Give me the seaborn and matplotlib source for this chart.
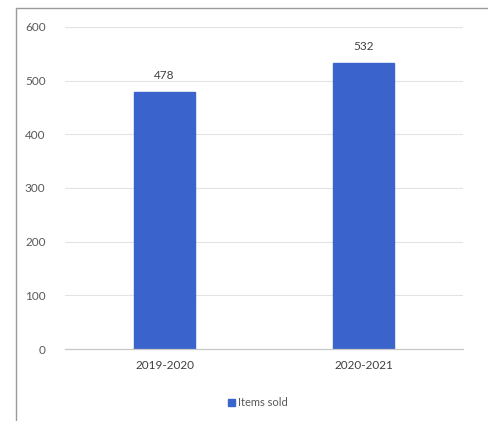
import matplotlib
matplotlib.use("Agg")
import matplotlib.pyplot as plt
import seaborn as sns
import pandas as pd
from matplotlib.lines import Line2D
from matplotlib.patches import Patch

periods = ["2019-2020", "2020-2021"]
items_sold = [478, 532]
series_name = "Items sold"
y_ticks = [0, 100, 200, 300, 400, 500, 600]

df = pd.DataFrame({"period": periods, "value": items_sold, "series": series_name})

sns.set_theme(style="white")
plt.rcParams["font.family"] = ["Lato", "DejaVu Sans"]

W, H = 488, 421
fig = plt.figure(figsize=(W / 100, H / 100), dpi=100)
ax = fig.add_axes([65 / W, 1 - 349 / H, (463 - 65) / W, (349 - 27) / H])

color = "#3A63CB"
sns.barplot(data=df, x="period", y="value", color=color, width=0.31, ax=ax,
            saturation=1, edgecolor=color)

ax.set_ylim(0, 600)
ax.set_xlim(-0.5, 1.5)
ax.set_yticks(y_ticks)
ax.set_yticklabels([str(t) for t in y_ticks])
ax.grid(axis="y", color="#e3e3e3", linewidth=0.8)
ax.set_axisbelow(True)
for s in ["top", "right", "left"]:
    ax.spines[s].set_visible(False)
ax.spines["bottom"].set_color("#c8c8c8")
ax.spines["bottom"].set_linewidth(0.9)
ax.tick_params(axis="y", length=0, labelsize=8.5, labelcolor="#595959", pad=14)
ax.tick_params(axis="x", length=0, labelsize=8.5, labelcolor="#404040", pad=8)
ax.set_xlabel("")
ax.set_ylabel("")

for c in ax.containers:
    ax.bar_label(c, labels=[str(v) for v in items_sold], padding=8,
                 fontsize=8.5, color="#404040")

leg = fig.legend(handles=[Patch(facecolor=color, edgecolor=color, label=series_name)],
                 loc="center", bbox_to_anchor=(258 / W, 1 - 403 / H), frameon=False,
                 fontsize=8, handlelength=0.6, handleheight=0.6, handletextpad=0.3)
for t in leg.get_texts():
    t.set_color("#595959")

# outer frame lines of the screenshot
fig.add_artist(Line2D([16 / W, 1], [1 - 8 / H, 1 - 8 / H], color="#9a9a9a", linewidth=1.0))
fig.add_artist(Line2D([16 / W, 16 / W], [0, 1 - 8 / H], color="#9a9a9a", linewidth=1.0))

fig.savefig("out.png", dpi=100)
